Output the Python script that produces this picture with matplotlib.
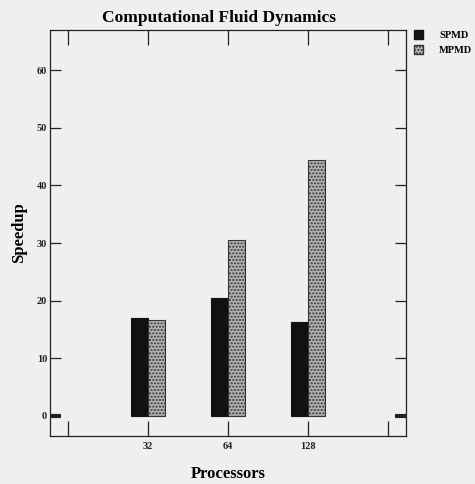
import matplotlib
matplotlib.use("Agg")
import matplotlib.pyplot as plt
from matplotlib.patches import Patch
import numpy as np

categories = ["32", "64", "128"]
spmd = [17.0, 20.4, 16.3]
mpmd = [16.6, 30.5, 44.5]
yticks = [0, 10, 20, 30, 40, 50, 60]

plt.rcParams['font.family'] = ['Liberation Serif', 'DejaVu Serif']
bg = '#efefef'
fig = plt.figure(figsize=(4.75, 4.84), dpi=100, facecolor=bg)
ax = fig.add_axes([50/475, 48/484, 356/475, 406/484], facecolor=bg)

x = np.arange(1, len(categories) + 1)
w = 0.21
ax.bar(x - w/2, spmd, w, color='#111111', edgecolor='#111111', linewidth=0.8, label='SPMD')
ax.bar(x + w/2, mpmd, w, color='#b4b4b4', edgecolor='#333333', hatch='.....', linewidth=0.8, label='MPMD')

ax.set_xlim(-0.225, 4.225)
ax.set_ylim(-3.5, 67)
ax.set_xticks([0, 1, 2, 3, 4])
ax.set_xticklabels([''] + categories + [''])
ax.set_yticks(yticks)
ax.tick_params(axis='both', direction='in', labelsize=7.5, colors='#222222', width=0.9)
ax.tick_params(axis='y', length=8, left=True, right=True, pad=2)
ax.tick_params(axis='x', length=11, top=True, bottom=True, pad=4)
for lbl in ax.get_xticklabels() + ax.get_yticklabels():
    lbl.set_fontweight('bold')
for t in [ax.yaxis.get_major_ticks()[0]]:
    t.tick1line.set_markeredgewidth(3)
    t.tick2line.set_markeredgewidth(3)
for s in ax.spines.values():
    s.set_linewidth(0.9)
    s.set_color('#222222')

ax.set_ylabel('Speedup', fontsize=12, fontweight='bold', labelpad=7)
ax.set_xlabel('Processors', fontsize=12, fontweight='bold', labelpad=11)
fig.text(219/475, 1 - 18/484, 'Computational Fluid Dynamics', ha='center', va='center',
         fontsize=12.5, fontweight='bold')

handles = [Patch(facecolor='#111111', edgecolor='#111111', label='SPMD'),
           Patch(facecolor='#b4b4b4', edgecolor='#333333', hatch='.....', label='MPMD')]
leg = fig.legend(handles=handles, loc='upper left', bbox_to_anchor=(410/475, 1 - 26/484),
                 frameon=False, fontsize=7.5, handlelength=0.8, handleheight=1.0,
                 handletextpad=1.6, labelspacing=0.45, borderaxespad=0)
for t in leg.get_texts():
    t.set_fontweight('bold')

fig.savefig('out.png', dpi=100, facecolor=bg)
